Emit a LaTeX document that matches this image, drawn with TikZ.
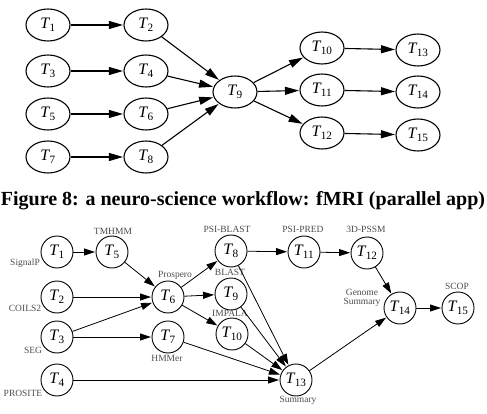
\documentclass[tikz,border=0pt]{standalone}
\usepackage{fontspec}
\setmainfont{Liberation Serif}
\usetikzlibrary{shapes, arrows.meta}

\newcommand{\tk}[1]{\textit{T}\kern-0.04em\textsubscript{#1}}

\tikzset{
	task/.style={ellipse, draw, line width=1.1pt, minimum width=44pt, minimum height=32pt, inner sep=1pt, font=\fontsize{16}{16}\selectfont},
	job/.style={circle, draw, line width=0.9pt, minimum size=32pt, inner sep=0pt, font=\fontsize{16}{16}\selectfont},
	flow/.style={-{Triangle[length=14pt,width=8pt]}, line width=1.1pt, shorten >=0.5pt},
	link/.style={-{Triangle[length=11pt,width=7pt]}, line width=0.8pt, shorten >=0.5pt},
	tool/.style={font=\fontsize{9.5}{9.5}\selectfont, text=black!70, inner sep=0pt, align=center}
}

\begin{document}
\begin{tikzpicture}[x=1pt, y=-1pt]
	\useasboundingbox (0,0) rectangle (487,414);
	%fMRI tasks
		\node[task] (a1) at (48,25) {\tk{1}};
		\node[task] (a2) at (146,25) {\tk{2}};
		\node[task] (a3) at (48,71) {\tk{3}};
		\node[task] (a4) at (146,71) {\tk{4}};
		\node[task] (a5) at (48,114) {\tk{5}};
		\node[task] (a6) at (146,114) {\tk{6}};
		\node[task] (a7) at (48,157) {\tk{7}};
		\node[task] (a8) at (146,157) {\tk{8}};
		\node[task] (a9) at (235,92) {\tk{9}};
		\node[task] (a10) at (322,48) {\tk{10}};
		\node[task] (a11) at (322,90) {\tk{11}};
		\node[task] (a12) at (322,133) {\tk{12}};
		\node[task] (a13) at (418,50) {\tk{13}};
		\node[task] (a14) at (418,92) {\tk{14}};
		\node[task] (a15) at (418,135) {\tk{15}};
	%fMRI edges
		\draw[flow] (a1) -- (a2);
		\draw[flow] (a3) -- (a4);
		\draw[flow] (a5) -- (a6);
		\draw[flow] (a7) -- (a8);
		\foreach \i in {2,4,6,8} \draw[flow] (a\i) -- (a9);
		\foreach \i in {10,11,12} \draw[flow] (a9) -- (a\i);
		\draw[flow] (a10) -- (a13);
		\draw[flow] (a11) -- (a14);
		\draw[flow] (a12) -- (a15);
	%Caption
		\node[anchor=base, font=\fontsize{20}{20}\selectfont\bfseries] (caption) at (243,205) {Figure 8: a neuro-science workflow: fMRI (parallel app)};
	%Protein annotation tasks
		\node[job] (b1) at (57,252) {\tk{1}};
		\node[job] (b5) at (112,252) {\tk{5}};
		\node[job] (b2) at (57,297) {\tk{2}};
		\node[job] (b6) at (168,297) {\tk{6}};
		\node[job] (b3) at (57,337) {\tk{3}};
		\node[job] (b7) at (168,337) {\tk{7}};
		\node[job] (b4) at (57,380) {\tk{4}};
		\node[job] (b8) at (231,251) {\tk{8}};
		\node[job] (b9) at (231,294) {\tk{9}};
		\node[job] (b10) at (232,334) {\tk{10}};
		\node[job] (b11) at (304,252) {\tk{11}};
		\node[job] (b12) at (367,253) {\tk{12}};
		\node[job] (b13) at (296,380) {\tk{13}};
		\node[job] (b14) at (400,308) {\tk{14}};
		\node[job] (b15) at (458,308) {\tk{15}};
	%Tool names
		\node[tool] (signalp) at (25,263) {SignalP};
		\node[tool] (tmhmm) at (113,231) {TMHMM};
		\node[tool] (coils) at (25,308) {COILS2};
		\node[tool] (seg) at (33,350) {SEG};
		\node[tool] (prosite) at (23,393) {PROSITE};
		\node[tool] (prospero) at (175,275) {Prospero};
		\node[tool] (hmmer) at (167,358) {HMMer};
		\node[tool] (psiblast) at (227,229) {PSI-BLAST};
		\node[tool] (blast) at (230,272) {BLAST};
		\node[tool] (impala) at (230,313) {IMPALA};
		\node[tool] (psipred) at (303,229) {PSI-PRED};
		\node[tool] (pssm) at (366,229) {3D-PSSM};
		\node[tool] (genome) at (362,298) {Genome\\Summary};
		\node[tool] (scop) at (457,286) {SCOP};
		\node[tool] (summary) at (298,400) {Summary};
	%Protein annotation edges
		\draw[link] (b1) -- (b5);
		\draw[link] (b5) -- (b6);
		\draw[link] (b2) -- (b6);
		\draw[link] (b3) -- (b6);
		\draw[link] (b3) -- (b7);
		\foreach \i in {8,9,10} \draw[link] (b6) -- (b\i);
		\draw[link] (b8) -- (b11);
		\draw[link] (b11) -- (b12);
		\draw[link] (b12) -- (b14);
		\foreach \i in {8,9,10,7,4} \draw[link] (b\i) -- (b13);
		\draw[link] (b13) -- (b14);
		\draw[link] (b14) -- (b15);
\end{tikzpicture}
\end{document}
